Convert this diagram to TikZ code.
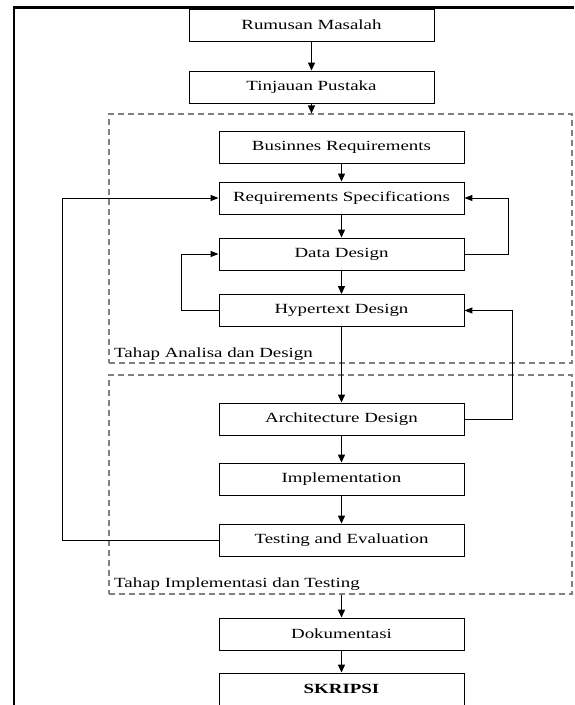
\documentclass[tikz,border=0pt]{standalone}
\usepackage{fontspec}
\setmainfont{Liberation Serif}[FakeStretch=1.35]
\usepackage{tikz}
\usetikzlibrary{positioning, arrows.meta, calc}
\definecolor{grpline}{HTML}{808080}

\begin{document}
\begin{tikzpicture}[
  x=1pt, y=-1pt,
  font=\fontsize{14}{16}\selectfont,
  st/.style={draw, line width=0.9pt, minimum width=245pt, minimum height=32pt, inner sep=0pt},
  grp/.style={draw=grpline, line width=1.1pt, dash pattern=on 6pt off 4pt, inner sep=0pt},
  arr/.style={-{Triangle[length=8pt, width=7pt]}, line width=1.2pt},
  back/.style={-{Triangle[length=8pt, width=6pt]}, line width=1pt}]
\useasboundingbox (0,0) rectangle (574,705);
\draw[line width=2.2pt] (14,705) -- (14,7.5) -- (574,7.5);

\node[grp, minimum width=463pt, minimum height=249pt](analisa) at (340.5,238.5) {};
\node[grp, minimum width=463pt, minimum height=219pt](implem) at (340.5,484.5) {};
\node[anchor=base west, inner sep=0pt](lblA) at (114,357) {Tahap Analisa dan Design};
\node[anchor=base west, inner sep=0pt](lblB) at (114,587) {Tahap Implementasi dan Testing};

\node[st](rumusan) at (311.5,25) {Rumusan Masalah};
\node[st](tinjauan) at (311.5,87) {Tinjauan Pustaka};
\node[st](busreq) at (341.5,147) {Businnes Requirements};
\node[st](reqspec) at (341.5,198) {Requirements Specifications};
\node[st](data) at (341.5,254) {Data Design};
\node[st](hyper) at (341.5,310.5) {Hypertext Design};
\node[st](arch) at (341.5,419) {Architecture Design};
\node[st](impl) at (341.5,479) {Implementation};
\node[st](testing) at (341.5,540) {Testing and Evaluation};
\node[st](dok) at (341.5,634) {Dokumentasi};
\node[st](skripsi) at (341.5,689) {\bfseries SKRIPSI};

\draw[arr](rumusan)--(tinjauan);
\draw[arr](tinjauan)--(tinjauan |- analisa.north);
\foreach \frm/\tto in {busreq/reqspec, reqspec/data, data/hyper, hyper/arch, arch/impl, impl/testing, dok/skripsi}
  {\draw[arr](\frm)--(\tto);}
\draw[arr](dok |- implem.south)--(dok);

\draw[back](testing.west) -- ++(-156,0) |- (reqspec.west);
\draw[back](data.east) -- ++(44,0) |- (reqspec.east);
\draw[back](hyper.west) -- ++(-37,0) |- (data.west);
\draw[back](arch.east) -- ++(48,0) |- (hyper.east);

\end{tikzpicture}
\end{document}
